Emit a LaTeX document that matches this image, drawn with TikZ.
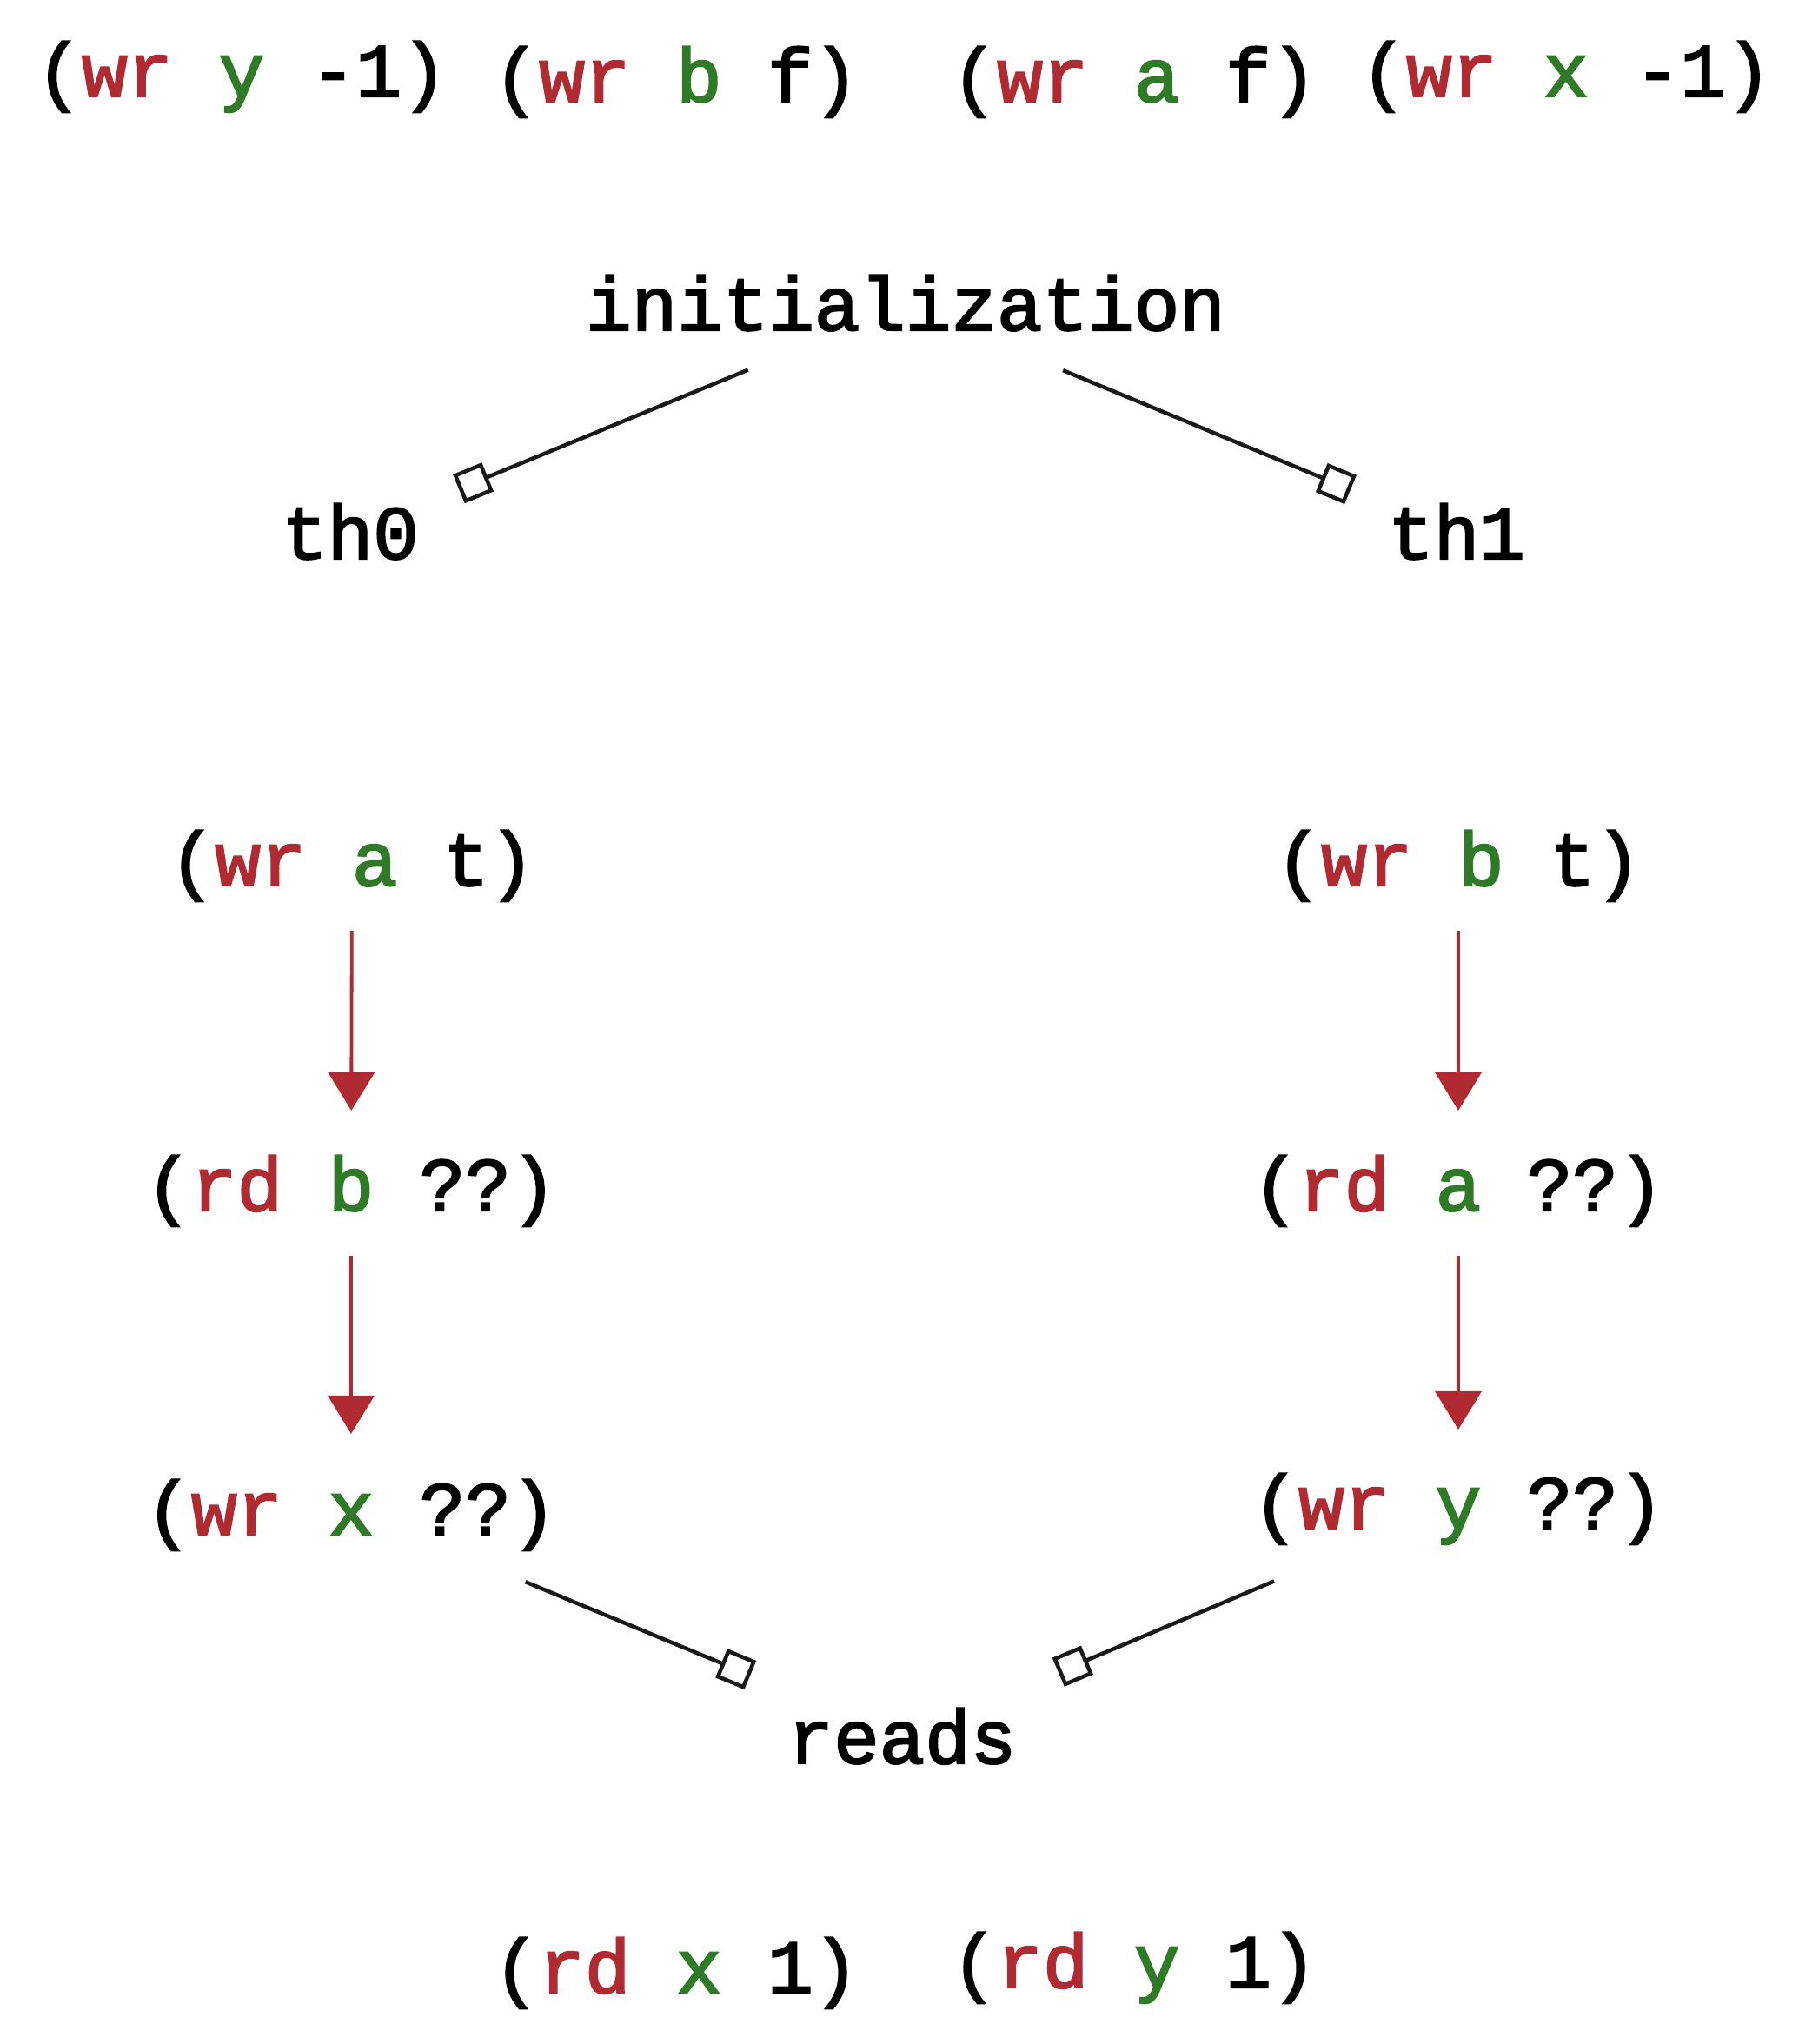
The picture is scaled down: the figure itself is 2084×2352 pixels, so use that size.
\documentclass[tikz,border=0pt]{standalone}
\usepackage{fontspec}
\usetikzlibrary{arrows.meta}
\newfontfamily\codefont{Liberation Mono}[FakeBold=2.5]
\definecolor{opred}{RGB}{176,42,50}
\definecolor{locgreen}{RGB}{46,122,38}
\definecolor{linkblack}{RGB}{25,25,25}
\newcommand{\opc}[1]{\textcolor{opred}{#1}}
\newcommand{\locc}[1]{\textcolor{locgreen}{#1}}
\begin{document}
\begin{tikzpicture}[x=0.01cm,y=-0.01cm,
  lbl/.style={font=\codefont\fontsize{24.9pt}{30pt}\selectfont,
    inner sep=0pt, text height=0.67cm, text depth=0.09cm, anchor=center},
  link/.style={draw=linkblack, line width=0.045cm, line join=miter,
    -{Square[open,length=0.36cm,width=0.36cm]}},
  seq/.style={draw=opred, line width=0.038cm,
    -{Triangle[length=0.44cm,width=0.53cm]}}]
\path[use as bounding box, fill=white] (0,0) rectangle (2084,2352);

% initial stores
\node[lbl] (iy) at (278,82)   {(\opc{wr} \locc{y} -1)};
\node[lbl] (ib) at (778,88)   {(\opc{wr} \locc{b} f)};
\node[lbl] (ia) at (1305,88)  {(\opc{wr} \locc{a} f)};
\node[lbl] (ix) at (1802,82)  {(\opc{wr} \locc{x} -1)};

\node[lbl] (init) at (1042,351) {initialization};
\node[lbl] (th0) at (403,614)  {th0};
\node[lbl] (th1) at (1676,614) {th1};

% thread 0
\node[lbl] (wat) at (405,990)  {(\opc{wr} \locc{a} t)};
\node[lbl] (rdb) at (404,1364) {(\opc{rd} \locc{b} ??)};
\node[lbl] (wrx) at (404,1737) {(\opc{wr} \locc{x} ??)};

% thread 1
\node[lbl] (wbt) at (1678,990)  {(\opc{wr} \locc{b} t)};
\node[lbl] (rda) at (1678,1364) {(\opc{rd} \locc{a} ??)};
\node[lbl] (wry) at (1678,1730) {(\opc{wr} \locc{y} ??)};

\node[lbl] (reads) at (1038,2000) {reads};
\node[lbl] (rx) at (778,2264)  {(\opc{rd} \locc{x} 1)};
\node[lbl] (ry) at (1305,2258) {(\opc{rd} \locc{y} 1)};

% connectors
\draw[link, shorten <=1.96cm, shorten >=1.35cm] (init.center) -- (th0.center);
\draw[link, shorten <=1.96cm, shorten >=1.32cm] (init.center) -- (th1.center);
\draw[seq, shorten <=0.81cm, shorten >=0.86cm] (wat.center) -- (rdb.center);
\draw[seq, shorten <=0.81cm, shorten >=0.87cm] (rdb.center) -- (wrx.center);
\draw[seq, shorten <=0.81cm, shorten >=0.86cm] (wbt.center) -- (rda.center);
\draw[seq, shorten <=0.81cm, shorten >=0.85cm] (rda.center) -- (wry.center);
\draw[link, shorten <=2.17cm, shorten >=1.89cm] (wrx.center) -- (reads.center);
\draw[link, shorten <=2.30cm, shorten >=1.95cm] (wry.center) -- (reads.center);
\end{tikzpicture}
\end{document}
